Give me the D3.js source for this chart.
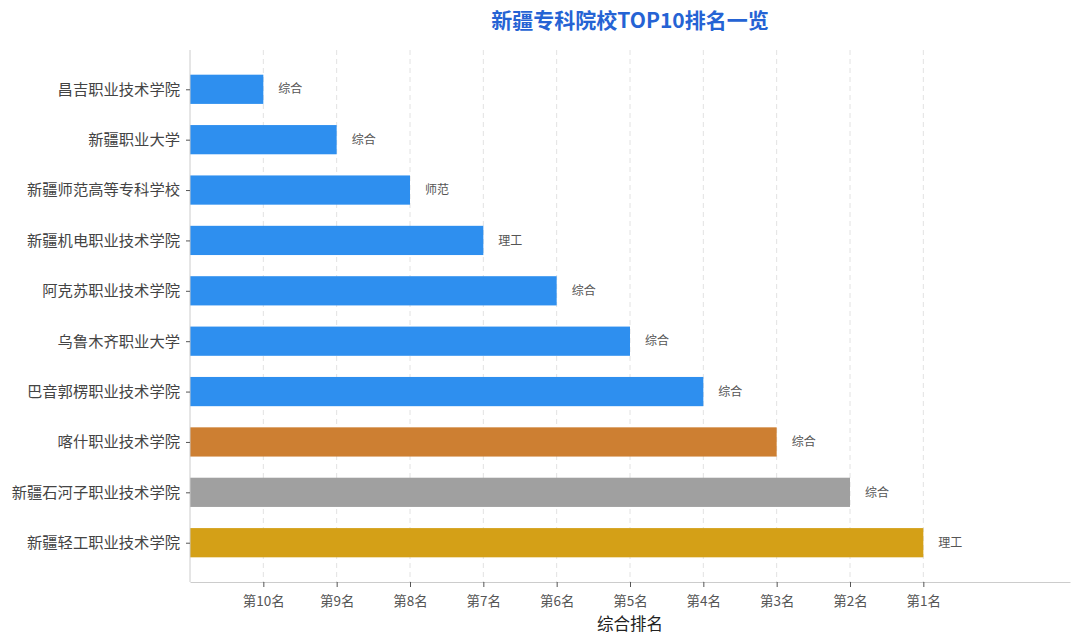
<!DOCTYPE html>
<html>
<head>
<meta charset="utf-8">
<script src="https://cdn.jsdelivr.net/npm/d3@7"></script>
<style>
  body { margin: 0; background: #fff; }
  svg { font-family: "Noto Sans CJK SC", "Noto Sans", sans-serif; }
</style>
</head>
<body>
<div id="chart"></div>
<script>
// 学校名称（从上到下）
const schools = [
  "昌吉职业技术学院",
  "新疆职业大学",
  "新疆师范高等专科学校",
  "新疆机电职业技术学院",
  "阿克苏职业技术学院",
  "乌鲁木齐职业大学",
  "巴音郭楞职业技术学院",
  "喀什职业技术学院",
  "新疆石河子职业技术学院",
  "新疆轻工职业技术学院"
];
const ranks = [10, 9, 8, 7, 6, 5, 4, 3, 2, 1];
const types = ["综合", "综合", "师范", "理工", "综合", "综合", "综合", "综合", "综合", "理工"];
const tickRanks = [10, 9, 8, 7, 6, 5, 4, 3, 2, 1];

const width = 1080, height = 644;
const margin = { top: 50, right: 10, bottom: 62, left: 190 };

const data = schools.map((name, i) => ({
  name: name,
  rank: ranks[i],
  type: types[i],
  score: 11 - ranks[i]
}));

const color = d => d.rank === 1 ? "#d4a017"
  : d.rank === 2 ? "#a0a0a0"
  : d.rank === 3 ? "#cd7f32"
  : "#2e8fef";

const svg = d3.select("#chart").append("svg")
  .attr("width", width)
  .attr("height", height);

const x = d3.scaleLinear()
  .domain([0, 12])
  .range([margin.left, width - margin.right]);

const y = d3.scaleLinear()
  .domain([-0.78, schools.length - 1 + 0.78])
  .range([margin.top, height - margin.bottom]);

const barH = 0.58 * (y(1) - y(0));

// 网格线
svg.append("g")
  .selectAll("line")
  .data(tickRanks)
  .join("line")
  .attr("x1", r => x(11 - r))
  .attr("x2", r => x(11 - r))
  .attr("y1", margin.top)
  .attr("y2", height - margin.bottom)
  .attr("stroke", "#e2e2e2")
  .attr("stroke-width", 1)
  .attr("stroke-dasharray", "5,4");

// 条形
svg.append("g")
  .selectAll("rect")
  .data(data)
  .join("rect")
  .attr("x", x(0))
  .attr("y", (d, i) => y(i) - barH / 2)
  .attr("width", d => x(d.score) - x(0))
  .attr("height", barH)
  .attr("fill", color);

// 类型标注
svg.append("g")
  .selectAll("text")
  .data(data)
  .join("text")
  .attr("x", d => x(d.score) + 15)
  .attr("y", (d, i) => y(i))
  .attr("dy", "0.35em")
  .attr("font-size", 12)
  .attr("fill", "#555")
  .text(d => d.type);

// x 轴
const xAxis = svg.append("g")
  .attr("transform", `translate(0,${height - margin.bottom})`)
  .call(d3.axisBottom(x)
    .tickValues(tickRanks.map(r => 11 - r))
    .tickFormat(v => `第${11 - v}名`)
    .tickSizeInner(5)
    .tickSizeOuter(0)
    .tickPadding(9));
xAxis.select(".domain").attr("stroke", "#cccccc");
xAxis.selectAll(".tick line").attr("stroke", "#555");
xAxis.selectAll(".tick text")
  .attr("font-size", 13.5)
  .attr("fill", "#555")
  .attr("font-family", "\"Noto Sans CJK SC\", sans-serif");

// y 轴
const yAxis = svg.append("g")
  .attr("transform", `translate(${margin.left},0)`)
  .call(d3.axisLeft(y)
    .tickValues(d3.range(schools.length))
    .tickFormat(i => schools[i])
    .tickSizeInner(4)
    .tickSizeOuter(0)
    .tickPadding(6));
yAxis.select(".domain").attr("stroke", "#cccccc").attr("d", `M0,${margin.top}V${height - margin.bottom}`);
yAxis.selectAll(".tick line").attr("stroke", "#555");
yAxis.selectAll(".tick text")
  .attr("font-size", 15.3)
  .attr("fill", "#444")
  .attr("font-family", "\"Noto Sans CJK SC\", sans-serif");

// 轴标题
svg.append("text")
  .attr("x", (margin.left + width - margin.right) / 2)
  .attr("y", 630)
  .attr("text-anchor", "middle")
  .attr("font-size", 16.5)
  .attr("fill", "#222")
  .text("综合排名");

// 标题
svg.append("text")
  .attr("x", (margin.left + width - margin.right) / 2)
  .attr("y", 28)
  .attr("text-anchor", "middle")
  .attr("font-size", 21)
  .attr("font-weight", "bold")
  .attr("fill", "#2563d4")
  .text("新疆专科院校TOP10排名一览");
</script>
</body>
</html>
